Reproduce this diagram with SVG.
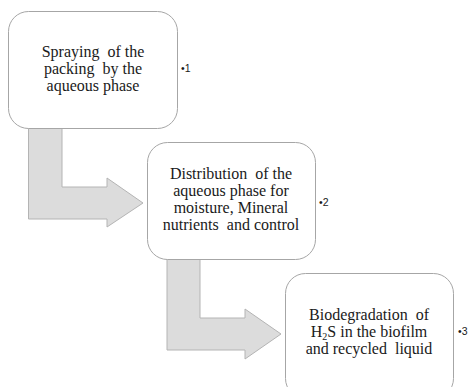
<svg xmlns="http://www.w3.org/2000/svg" width="472" height="387" viewBox="0 0 472 387">
<style>
.box{fill:#ffffff;stroke:#a6a6a6;stroke-width:1}
.arr{fill:#dcdcdc;stroke:#b4b4b4;stroke-width:1}
.t{font-family:"Liberation Serif","Times New Roman",serif;font-size:16px;fill:#1a1a1a;text-anchor:middle}
.b{font-family:"Liberation Sans",Arial,sans-serif;font-size:10.5px;fill:#1a1a1a}
</style>
<rect width="472" height="387" fill="#ffffff"/>
<g id="connectors">
<path class="arr" d="M28.5,128 L62,128 L62,187 L107,187 L107,178 L143,203 L107,227 L107,219 L28.5,219 Z"/>
<path class="arr" d="M167,259 L200,259 L200,318 L245,318 L245,309 L281,334 L245,359 L245,350 L167,350 Z"/>
</g>
<g id="node1">
<rect class="box" x="8.5" y="11.5" width="169" height="117" rx="20"/>
<text class="t" x="93" y="57" xml:space="preserve">Spraying  of the</text>
<text class="t" x="93" y="74" xml:space="preserve">packing  by the</text>
<text class="t" x="93" y="91">aqueous phase</text>
<text class="b" x="181" y="72">•1</text>
</g>
<g id="node2">
<rect class="box" x="147.5" y="142.5" width="168" height="117" rx="20"/>
<text class="t" x="231" y="179" xml:space="preserve">Distribution  of the</text>
<text class="t" x="231" y="196">aqueous phase for</text>
<text class="t" x="231" y="213">moisture, Mineral</text>
<text class="t" x="231" y="230" xml:space="preserve">nutrients  and control</text>
<text class="b" x="319" y="206">•2</text>
</g>
<g id="node3">
<rect class="box" x="285.5" y="273.5" width="168" height="125" rx="20"/>
<text class="t" x="369" y="320" xml:space="preserve">Biodegradation  of</text>
<text class="t" x="369" y="337">H<tspan font-size="10" baseline-shift="-3">2</tspan>S in the biofilm</text>
<text class="t" x="369" y="354" xml:space="preserve">and recycled  liquid</text>
<text class="b" x="458" y="335">•3</text>
</g>
</svg>
